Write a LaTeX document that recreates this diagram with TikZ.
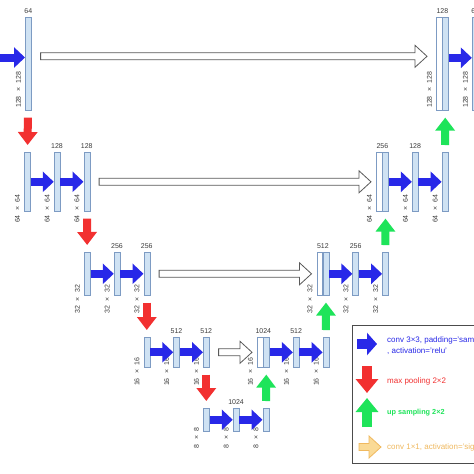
\documentclass[tikz,border=0pt]{standalone}
\usepackage{fontspec}
\setmainfont{Liberation Sans}
\usetikzlibrary{positioning,arrows.meta,calc}

\definecolor{barfill}{RGB}{207,226,243}
\definecolor{barline}{RGB}{125,155,195}
\definecolor{convblue}{RGB}{40,40,232}
\definecolor{poolred}{RGB}{242,48,48}
\definecolor{upgreen}{RGB}{30,228,90}
\definecolor{outfill}{RGB}{250,218,150}
\definecolor{outline}{RGB}{240,185,95}
\definecolor{txtgray}{RGB}{60,60,60}

% open block arrow between two points
\newcommand{\skipconn}[3][skip]{%
  \draw[#1] let \p1=#2, \p2=#3 in
    (\x1,\y1+3.5pt) -- (\x2-12pt,\y1+3.5pt) -- (\x2-12pt,\y1+11pt) -- (\x2,\y1)
    -- (\x2-12pt,\y1-11pt) -- (\x2-12pt,\y1-3.5pt) -- (\x1,\y1-3.5pt) -- cycle;}
% feature map size
\newcommand{\dimsize}[1]{#1\hspace{4.5pt}×\hspace{4.5pt}#1}

\begin{document}
\begin{tikzpicture}[x=1pt, y=-1pt, node distance=23.15pt,
    bar/.style={draw=barline, fill=barfill, line width=0.6pt, minimum width=6pt, inner sep=0pt},
    half/.style={bar, minimum width=5.75pt},
    l1/.style={minimum height=93pt}, l2/.style={minimum height=59pt},
    l3/.style={minimum height=43pt}, l4/.style={minimum height=30pt},
    l5/.style={minimum height=23pt},
    num/.style={font=\fontsize{7}{8}\selectfont, text=txtgray, inner sep=1.5pt},
    dim/.style={num, rotate=90, inner sep=0pt},
    label distance=2pt,
    conv/.style={draw=convblue, line width=8pt, -{Triangle[length=11pt,width=20pt]}},
    pool/.style={draw=poolred, line width=8pt, -{Triangle[length=13pt,width=19pt]}, shorten <=7pt, shorten >=7pt},
    up/.style={pool, draw=upgreen},
    skip/.style={draw=black!65, fill=white, line width=0.8pt},
    outarrow/.style={draw=outline, fill=outfill, line width=0.8pt},
    legtext/.style={font=\fontsize{8}{10.5}\selectfont, inner sep=0pt, anchor=west, align=left}]

    \useasboundingbox (0,0) rectangle (474,474);
    \fill[white] (0,0) rectangle (474,474);
    \clip (0,0) rectangle (474,474);

    % level 1
    \node[bar, l1, anchor=north west, label={[num]above:64}] (e11) at (25,17) {};
    \node[half, l1, fill=white, anchor=north west] (s1) at (436,17) {};
    \node[half, l1, right=0pt of s1] (d11) {};
    \node[bar, l1, right=of d11, label={[num]above:64}] (d12) {};
    \node[num, above=2pt of s1.north east] {128};

    % level 2
    \node[bar, l2, anchor=north west] (e21) at (24,152) {};
    \node[bar, l2, right=of e21, label={[num]above:128}] (e22) {};
    \node[bar, l2, right=of e22, label={[num]above:128}] (e23) {};
    \node[half, l2, fill=white, anchor=north west] (s2) at (376,152) {};
    \node[half, l2, right=0pt of s2] (d21) {};
    \node[bar, l2, right=of d21, label={[num]above:128}] (d22) {};
    \node[bar, l2, right=of d22] (d23) {};
    \node[num, above=2pt of s2.north east] {256};

    % level 3
    \node[bar, l3, anchor=north west] (e31) at (84,252) {};
    \node[bar, l3, right=of e31, label={[num]above:256}] (e32) {};
    \node[bar, l3, right=of e32, label={[num]above:256}] (e33) {};
    \node[half, l3, fill=white, anchor=north west] (s3) at (316.5,252) {};
    \node[half, l3, right=0pt of s3] (d31) {};
    \node[bar, l3, right=of d31, label={[num]above:256}] (d32) {};
    \node[bar, l3, right=of d32] (d33) {};
    \node[num, above=2pt of s3.north east] {512};

    % level 4
    \node[bar, l4, anchor=north west] (e41) at (143.5,337) {};
    \node[bar, l4, right=of e41, label={[num]above:512}] (e42) {};
    \node[bar, l4, right=of e42, label={[num]above:512}] (e43) {};
    \node[half, l4, fill=white, anchor=north west] (s4) at (257,337) {};
    \node[half, l4, right=0pt of s4] (d41) {};
    \node[bar, l4, right=of d41, label={[num]above:512}] (d42) {};
    \node[bar, l4, right=of d42] (d43) {};
    \node[num, above=2pt of s4.north east] {1024};

    % bottom
    \node[bar, l5, anchor=north west] (b1) at (203,408) {};
    \node[bar, l5, right=of b1, label={[num]above:1024}] (b2) {};
    \node[bar, l5, right=of b2] (b3) {};

    % sizes
    \foreach \n in {e11,s1,d12}
        \node[dim] at ([xshift=-6.5pt,yshift=21pt]\n.south west) {\dimsize{128}};
    \foreach \n in {e21,e22,e23,s2,d22,d23}
        \node[dim] at ([xshift=-6.5pt,yshift=3pt]\n.south west) {\dimsize{64}};
    \foreach \n in {e31,e32,e33,s3,d32,d33}
        \node[dim] at ([xshift=-6.5pt,yshift=-3.5pt]\n.south west) {\dimsize{32}};
    \foreach \n in {e41,e42,e43,s4,d42,d43}
        \node[dim] at ([xshift=-6.5pt,yshift=-4pt]\n.south west) {\dimsize{16}};
    \foreach \n in {b1,b2,b3}
        \node[dim] at ([xshift=-6.5pt,yshift=-6pt]\n.south west) {\dimsize{8}};

    % connectors
    \coordinate (in) at (0,57.5);
    \draw[conv] (in) -- (in -| e11.west);
    \draw[conv] ([yshift=6pt]d11.east) -- ([yshift=6pt]d12.west);
    \foreach \a/\b in {e21/e22, e22/e23, d21/d22, d22/d23, e31/e32, e32/e33, d31/d32, d32/d33,
                       e41/e42, e42/e43, d41/d42, d42/d43, b1/b2, b2/b3}
        \draw[conv] (\a) -- (\b);
    \foreach \a/\b in {e11/e21, e23/e31, e33/e41, e43/b1}
        \draw[pool] (\a) -- (\b);
    \foreach \a/\b in {b3/d41, d43/d31, d33/d21, d23/d11}
        \draw[up] (\a) -- (\b);
    \skipconn{([xshift=9pt,yshift=7.5pt]e11.east)}{([xshift=-9pt,yshift=7.5pt]s1.west)}
    \foreach \a/\b in {e23/s2, e33/s3, e43/s4}
        {\skipconn{([xshift=9pt]\a.east)}{([xshift=-5pt]\b.west)}}

    % legend
    \draw[draw=black!70, line width=0.8pt] (352,325) rectangle (490,463);
    \coordinate (k1) at (357,344);
    \coordinate (k1e) at (377,344);
    \draw[conv, line width=10pt, -{Triangle[length=10pt,width=22pt]}] (k1) -- (k1e);
    \node[legtext, text=convblue] at (387,345.5) {conv 3×3, padding='same'\\, activation='relu'};
    \coordinate (k2) at (367,366);
    \coordinate (k2e) at (367,393);
    \draw[pool, line width=10pt, shorten <=0pt, shorten >=0pt, -{Triangle[length=14pt,width=22pt]}] (k2) -- (k2e);
    \node[legtext, text=poolred] at (387,381) {max pooling 2×2};
    \coordinate (k3) at (367,427);
    \coordinate (k3e) at (367,398);
    \draw[up, line width=10pt, shorten <=0pt, shorten >=0pt, -{Triangle[length=14pt,width=22pt]}] (k3) -- (k3e);
    \node[legtext, text=upgreen, font=\fontsize{7.3}{9}\selectfont\bfseries] at (387,413) {up sampling 2×2};
    \coordinate (k4) at (359,447);
    \coordinate (k4e) at (381,447);
    \skipconn[outarrow]{(k4)}{(k4e)}
    \node[legtext, text=outline] at (387,447) {conv 1×1, activation='sigmoid'};
\end{tikzpicture}
\end{document}
